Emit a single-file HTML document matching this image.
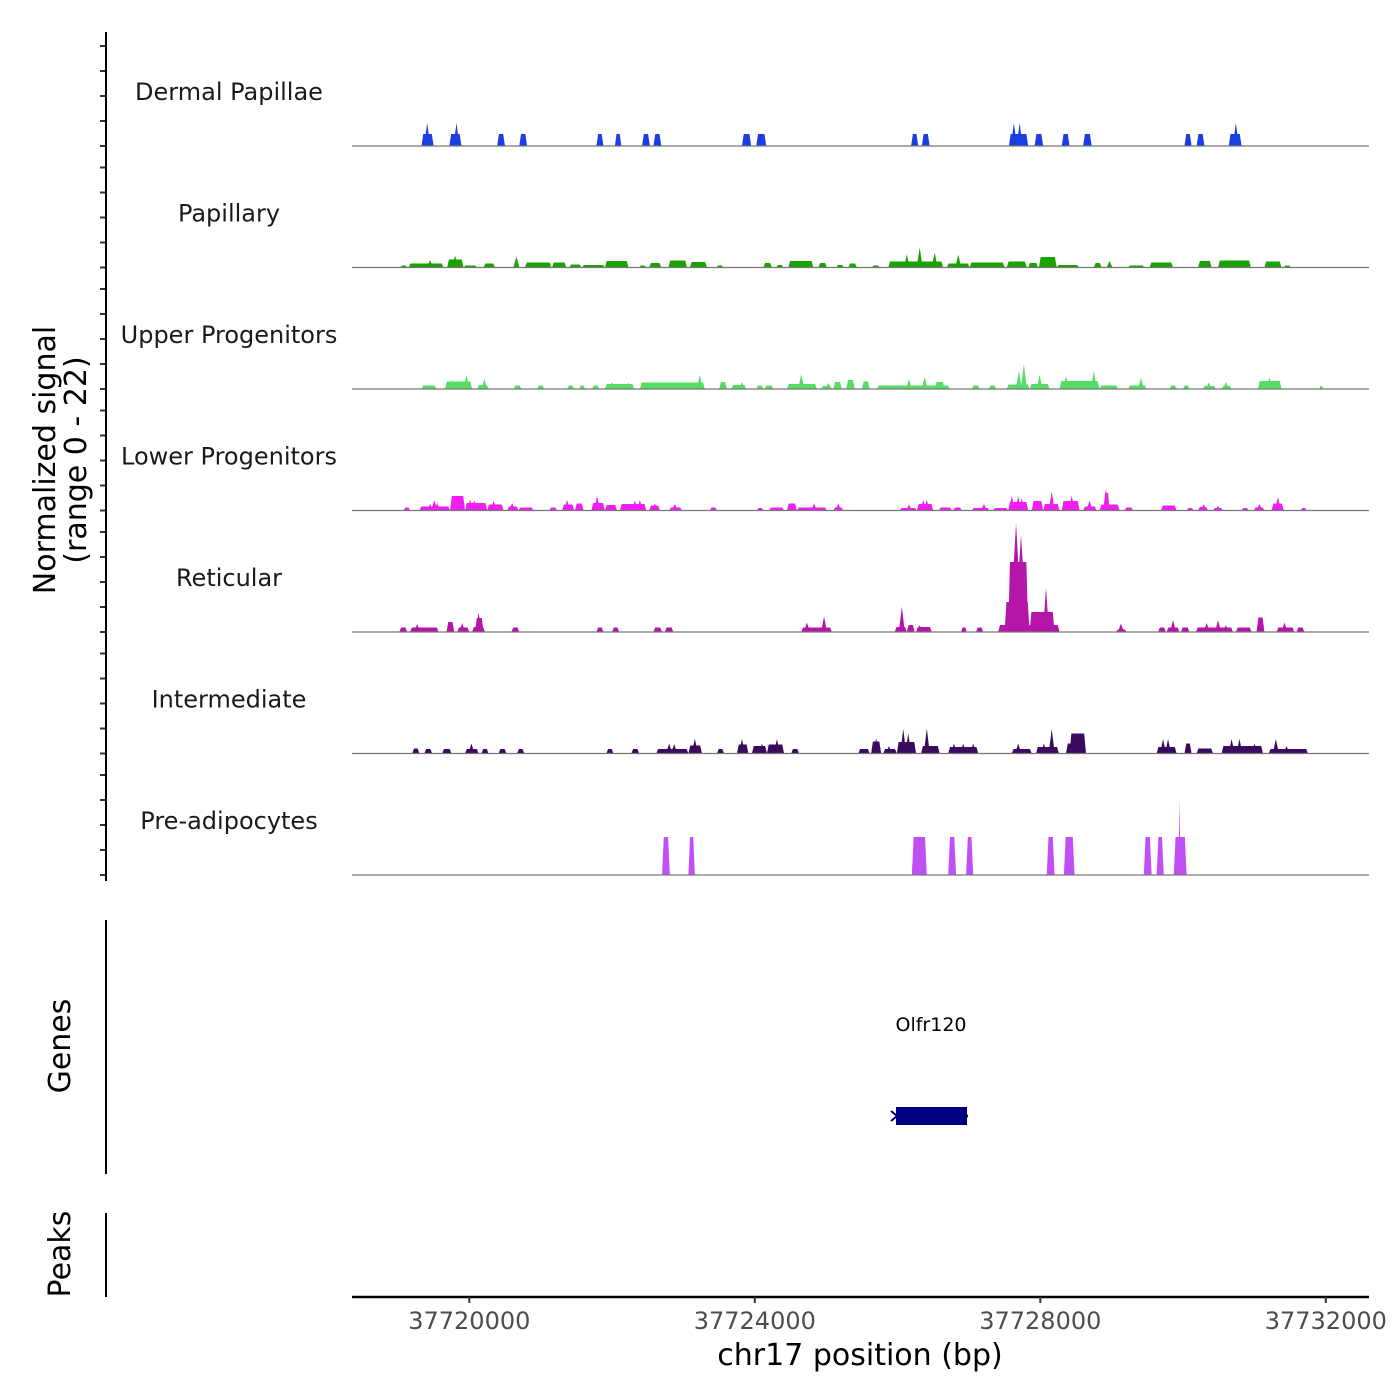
<!DOCTYPE html>
<html><head><meta charset="utf-8"><style>
html,body{margin:0;padding:0;background:#fff;}
svg{display:block;font-family:"DejaVu Sans","Liberation Sans",sans-serif;}
</style></head><body>
<svg id="chart" width="1400" height="1400" viewBox="0 0 1400 1400" xmlns="http://www.w3.org/2000/svg">
<rect width="1400" height="1400" fill="#fff"/>
<g id="tracks"></g>
<g id="yaxis"></g>
<text transform="translate(55,460) rotate(-90)" text-anchor="middle" font-size="30" fill="#000">Normalized signal</text>
<text transform="translate(86,460) rotate(-90)" text-anchor="middle" font-size="30" fill="#000">(range 0 - 22)</text>
<line x1="106" y1="920" x2="106" y2="1174" stroke="#000" stroke-width="2"/>
<text transform="translate(70,1046) rotate(-90)" text-anchor="middle" font-size="30" fill="#000">Genes</text>
<line x1="106" y1="1213" x2="106" y2="1297" stroke="#000" stroke-width="2"/>
<text transform="translate(70,1254) rotate(-90)" text-anchor="middle" font-size="30" fill="#000">Peaks</text>
<g>
<text x="931" y="1031" text-anchor="middle" font-size="19" fill="#000">Olfr120</text>
<rect x="896" y="1107" width="71" height="18" fill="#000080"/>
<polyline points="891,1111 897,1116 891,1121" fill="none" stroke="#000080" stroke-width="2"/>
<circle cx="966" cy="1116" r="2" fill="#000080"/>
</g>
<g id="xaxis">
<line x1="352" y1="1297" x2="1369" y2="1297" stroke="#000" stroke-width="2.5"/>
</g>
<text x="860" y="1365" text-anchor="middle" font-size="30" fill="#000">chr17 position (bp)</text>
</svg>
<script>
// ---------- data (positions in kb on chr17, signal in normalized units) ----------
const trackNames = ["Dermal Papillae","Papillary","Upper Progenitors","Lower Progenitors","Reticular","Intermediate","Pre-adipocytes"];
const trackColors = ["#1a3ee0","#1aa300","#55dd66","#f01ef0","#b515a8","#3a0a5e","#c050f5"];
const xTicks = [37720000,37724000,37728000,37732000];
const yTicks = [0,5,10,15,20];

const dpStart = [37719.33,37719.72,37720.39,37720.70,37721.78,37722.04,37722.42,37722.58,37723.82,37724.02,37726.19,37726.34,37727.56,37727.92,37728.30,37728.60,37730.02,37730.19,37730.64];
const dpEnd   = [37719.50,37719.89,37720.50,37720.81,37721.88,37722.13,37722.53,37722.69,37723.95,37724.16,37726.29,37726.45,37727.83,37728.04,37728.41,37728.72,37730.12,37730.30,37730.82];
const dpH     = [2.4,2.4,2.4,2.4,2.4,2.4,2.4,2.4,2.4,2.4,2.4,2.4,2.4,2.4,2.4,2.4,2.4,2.4,2.4];
const dpPeak  = [37719.41,37719.82,37727.63,37727.71,37730.74];
const dpPeakH = [4.6,4.6,4.6,4.6,4.6];

const paStart = [37719.03,37719.15,37719.69,37719.92,37720.20,37720.78,37721.16,37721.40,37721.58,37721.90,37722.38,37722.52,37722.79,37723.09,37723.46,37724.12,37724.30,37724.47,37724.89,37725.14,37725.31,37725.64,37725.87,37726.69,37727.01,37727.53,37727.83,37727.98,37728.23,37728.75,37729.23,37729.53,37730.21,37730.49,37731.14,37731.41];
const paEnd   = [37719.13,37719.64,37719.92,37720.11,37720.36,37721.15,37721.36,37721.57,37721.90,37722.23,37722.48,37722.69,37723.05,37723.33,37723.56,37724.24,37724.40,37724.82,37725.01,37725.25,37725.43,37725.75,37726.64,37727.01,37727.50,37727.81,37727.97,37728.23,37728.54,37728.86,37729.46,37729.86,37730.40,37730.95,37731.38,37731.51];
const paH     = [0.4,0.8,1.6,0.4,0.8,1.0,1.0,0.6,0.5,1.3,0.4,0.9,1.4,1.1,0.4,0.9,0.5,1.3,0.9,0.5,0.8,0.4,1.2,0.8,1.0,1.2,0.9,2.1,0.5,0.9,0.4,1.0,1.3,1.4,1.2,0.4];
const paPeak  = [37719.45,37719.80,37720.66,37726.13,37726.31,37726.52,37726.85,37728.97];
const paPeakH = [1.5,2.4,2.2,2.6,4.0,3.0,2.6,1.3];

const upStart = [37719.33,37719.66,37720.11,37720.62,37720.95,37721.37,37721.54,37721.72,37721.90,37722.39,37723.50,37723.67,37724.02,37724.14,37724.45,37724.93,37725.10,37725.28,37725.50,37725.71,37726.52,37727.04,37727.28,37727.53,37727.85,37728.27,37728.83,37729.23,37729.81,37730.00,37730.28,37730.54,37731.05,37731.91];
const upEnd   = [37719.54,37720.04,37720.27,37720.73,37721.05,37721.47,37721.62,37721.82,37722.31,37723.30,37723.61,37723.88,37724.12,37724.26,37724.87,37725.08,37725.22,37725.40,37725.61,37726.73,37726.66,37727.15,37727.38,37727.85,37728.13,37728.83,37729.09,37729.49,37729.91,37730.09,37730.46,37730.68,37731.38,37731.96];
const upH     = [0.7,1.5,0.8,0.7,0.7,0.7,0.7,0.7,1.0,1.3,1.4,0.8,0.7,0.7,1.0,0.6,1.4,1.8,1.5,0.7,1.4,0.7,0.7,0.9,1.0,1.6,0.7,0.7,0.7,0.7,0.6,0.6,1.6,0.6];
const upPeak  = [37719.76,37719.96,37720.21,37722.00,37722.23,37723.23,37723.82,37724.65,37725.03,37726.16,37726.38,37727.70,37727.77,37727.99,37728.36,37728.75,37729.41,37730.36,37730.60,37731.21];
const upPeakH = [1.8,2.9,2.0,1.4,1.3,2.8,1.4,3.0,1.2,2.0,2.4,3.5,5.0,2.8,2.6,3.6,2.2,1.3,1.4,2.4];

const loStart = [37719.08,37719.30,37719.73,37719.94,37720.25,37720.53,37720.69,37721.12,37721.30,37721.48,37721.71,37721.90,37722.11,37722.52,37722.80,37723.37,37724.03,37724.20,37724.45,37724.59,37725.10,37726.03,37726.27,37726.58,37726.78,37727.04,37727.34,37727.55,37727.88,37728.04,37728.30,37728.60,37728.83,37728.89,37729.18,37729.69,37730.05,37730.21,37730.42,37730.82,37730.99,37731.24,37731.65];
const loEnd   = [37719.17,37719.73,37719.94,37720.25,37720.48,37720.69,37720.90,37721.23,37721.47,37721.60,37721.90,37722.07,37722.48,37722.67,37722.98,37723.47,37724.12,37724.41,37724.59,37725.01,37725.24,37726.27,37726.50,37726.76,37726.90,37727.29,37727.55,37727.83,37728.04,37728.27,37728.55,37728.79,37729.11,37728.97,37729.30,37729.91,37730.15,37730.35,37730.56,37730.92,37731.14,37731.41,37731.73];
const loH     = [0.6,0.8,2.9,1.5,1.2,0.8,0.6,0.6,1.2,1.4,1.5,1.1,1.3,1.0,0.6,0.6,0.5,0.6,1.4,0.6,0.6,0.5,1.3,0.6,0.6,0.5,0.5,1.7,1.9,1.3,1.9,0.8,1.2,3.5,0.6,1.0,0.5,0.7,0.5,0.5,0.6,1.4,0.5];
const loPeak  = [37719.45,37719.51,37719.55,37720.01,37720.07,37720.34,37720.60,37721.37,37721.79,37722.32,37722.39,37722.60,37722.88,37724.83,37725.17,37726.16,37726.36,37726.41,37727.21,37727.60,37727.69,37727.74,37728.16,37728.44,37728.69,37728.92,37730.29,37730.49,37731.07,37731.33];
const loPeakH = [1.3,2.1,1.5,2.2,2.1,2.0,1.5,2.1,2.9,2.0,2.1,1.4,1.3,1.4,1.4,1.2,2.1,2.1,1.3,2.9,2.9,2.5,3.8,3.0,2.0,4.3,1.3,0.9,1.3,2.7];

const reStart = [37719.02,37719.17,37719.68,37719.83,37720.04,37720.08,37720.59,37721.78,37722.00,37722.58,37722.74,37724.65,37725.96,37726.13,37726.26,37726.89,37727.10,37727.41,37727.50,37727.55,37727.85,37729.06,37729.65,37729.77,37729.97,37730.18,37730.74,37731.03,37731.31,37731.59];
const reEnd   = [37719.13,37719.57,37719.79,37720.00,37720.22,37720.20,37720.70,37721.88,37722.10,37722.70,37722.86,37725.08,37726.13,37726.24,37726.48,37726.97,37727.20,37728.27,37727.85,37727.83,37728.20,37729.21,37729.76,37729.95,37730.09,37730.70,37730.96,37731.14,37731.56,37731.70];
const reH     = [0.9,0.9,2.0,0.9,1.0,2.8,0.9,0.9,0.9,0.9,0.9,0.9,1.0,1.4,1.0,0.9,0.9,1.4,6.0,14.0,4.0,0.5,0.9,0.9,0.9,0.9,0.9,2.9,0.9,0.9];
const rePeak  = [37719.27,37719.90,37720.13,37724.73,37724.97,37726.06,37726.31,37727.66,37727.73,37728.08,37729.13,37729.86,37730.33,37730.49,37730.60,37731.42];
const rePeakH = [1.6,1.8,3.9,1.9,3.1,5.1,1.4,21.8,19.4,8.9,1.7,2.4,1.8,2.4,1.4,1.9];

const inStart = [37719.20,37719.37,37719.62,37719.94,37720.17,37720.41,37720.67,37721.92,37722.27,37722.62,37723.07,37723.47,37723.75,37723.96,37724.17,37724.51,37725.45,37725.63,37725.80,37725.99,37726.33,37726.71,37727.60,37727.94,37728.36,37728.41,37729.63,37730.02,37730.19,37730.54,37731.20];
const inEnd   = [37719.30,37719.48,37719.75,37720.13,37720.27,37720.52,37720.77,37722.02,37722.38,37723.07,37723.26,37723.57,37723.91,37724.17,37724.41,37724.62,37725.61,37725.77,37725.99,37726.26,37726.59,37727.13,37727.88,37728.26,37728.64,37728.64,37729.91,37730.12,37730.42,37731.12,37731.75];
const inH     = [1.0,0.9,0.9,0.9,0.9,0.9,0.9,0.9,0.9,0.9,1.6,0.9,1.8,1.5,1.8,0.9,0.9,2.4,0.9,2.3,1.5,1.3,0.9,1.3,2.0,4.0,1.3,2.0,1.0,1.5,0.9];
const inPeak  = [37720.03,37722.80,37722.87,37723.16,37723.82,37724.10,37724.31,37725.70,37725.88,37726.08,37726.15,37726.41,37726.79,37726.92,37727.06,37727.69,37728.05,37728.16,37729.72,37729.79,37730.68,37730.79,37731.00,37731.30,37731.45];
const inPeakH = [2.0,2.0,1.9,3.0,2.9,2.0,2.9,3.0,1.5,4.9,4.0,5.0,2.0,2.0,2.0,2.0,2.0,4.9,2.9,2.9,2.9,2.9,2.0,2.9,1.5];

const adStart = [37722.70,37723.07,37726.20,37726.71,37726.96,37728.09,37728.33,37729.45,37729.63,37729.87];
const adEnd   = [37722.81,37723.16,37726.41,37726.82,37727.06,37728.20,37728.48,37729.56,37729.73,37730.05];
const adH     = [7.6,7.6,7.6,7.6,7.6,7.6,7.6,7.6,7.6,7.6];
const adPeak  = [37729.95];
const adPeakH = [15.4];

const segStarts = [dpStart,paStart,upStart,loStart,reStart,inStart,adStart];
const segEnds   = [dpEnd,paEnd,upEnd,loEnd,reEnd,inEnd,adEnd];
const segHeights= [dpH,paH,upH,loH,reH,inH,adH];
const peakPos   = [dpPeak,paPeak,upPeak,loPeak,rePeak,inPeak,adPeak];
const peakHeights=[dpPeakH,paPeakH,upPeakH,loPeakH,rePeakH,inPeakH,adPeakH];

// ---------- scales ----------
const NS = "http://www.w3.org/2000/svg";
const X0 = 352, X1 = 1369;
const pxPerKb = 285.5/4;
function xScale(kb){ return 469.3 + (kb - 37720) * pxPerKb; }
function baseline(i){ return 146 + i * 121.5; }
function yScale(i, v){ return baseline(i) - v * 5; }

const gTracks = document.getElementById('tracks');
const gY = document.getElementById('yaxis');
const gX = document.getElementById('xaxis');

function mk(tag, attrs, parent){
  const e = document.createElementNS(NS, tag);
  for (const k in attrs) e.setAttribute(k, attrs[k]);
  parent.appendChild(e);
  return e;
}

for (let i = 0; i < trackNames.length; i++){
  const g = mk('g', {}, gTracks);
  
  
  const b = baseline(i);
  const lab = mk('text', {x:229, y:b-46, 'text-anchor':'middle', 'font-size':'24', fill:'#1a1a1a'}, g);
  lab.textContent = trackNames[i];
  
  
  const st = segStarts[i], en = segEnds[i], hh = segHeights[i];
  for (let j = 0; j < st.length; j++){
    const xa = xScale(st[j]), xb = xScale(en[j]), yt = yScale(i, hh[j]);
    const s = Math.min(1.8, (xb - xa) / 4);
    const p = mk('polygon', {points:`${xa},${b} ${xa+s},${yt} ${xb-s},${yt} ${xb},${b}`, fill:trackColors[i]}, g);
    
    
  }
  const pk = peakPos[i], ph = peakHeights[i];
  for (let j = 0; j < pk.length; j++){
    const xc = xScale(pk[j]);
    const hw = ph[j] > 10 ? (i === 6 ? 1 : 6) : 3;
    const p = mk('polygon', {points:`${xc-hw},${b} ${xc},${yScale(i, ph[j])} ${xc+hw},${b}`, fill:trackColors[i]}, g);
    
    
  }
  const bl = mk('line', {x1:X0, y1:b, x2:X1, y2:b, stroke:'#777', 'stroke-width':1.2}, g);
  
  
  for (const t of yTicks){
    const yy = yScale(i, t);
    const tk = mk('line', {x1:100, y1:yy, x2:106, y2:yy, stroke:'#333', 'stroke-width':2}, gY);
    
    
  }
}
const yl = mk('line', {x1:106, y1:32, x2:106, y2:881, stroke:'#000', 'stroke-width':2}, gY);



for (const t of xTicks){
  const xx = xScale(t / 1000);
  const tk = mk('line', {x1:xx, y1:1297, x2:xx, y2:1303, stroke:'#333', 'stroke-width':2}, gX);
  
  
  const tl = mk('text', {x:xx, y:1329, 'text-anchor':'middle', 'font-size':'24', fill:'#4d4d4d'}, gX);
  tl.textContent = String(t);
  
  
}
</script>
</body></html>
